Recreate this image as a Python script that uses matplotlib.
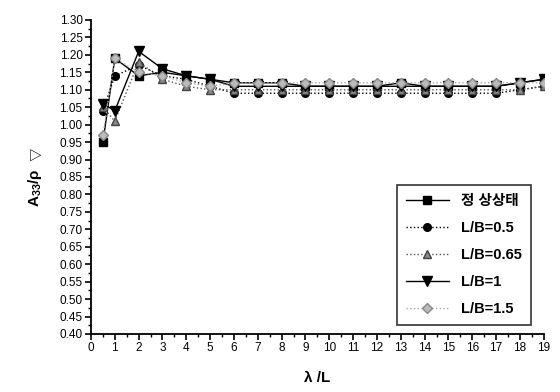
import matplotlib
matplotlib.use("Agg")
import matplotlib.pyplot as plt
from matplotlib.ticker import MultipleLocator, FormatStrFormatter

plt.rcParams['font.family'] = ['Liberation Sans', 'Noto Sans CJK KR', 'DejaVu Sans']
plt.rcParams['mathtext.fontset'] = 'custom'
plt.rcParams['mathtext.rm'] = 'Liberation Sans'
plt.rcParams['mathtext.bf'] = 'Liberation Sans:bold'

x = [0.5, 1, 2, 3, 4, 5, 6, 7, 8, 9, 10, 11, 12, 13, 14, 15, 16, 17, 18, 19]
steady = [0.95, 1.19, 1.14, 1.15, 1.14, 1.13, 1.12, 1.12, 1.12, 1.11, 1.11, 1.11, 1.11, 1.12, 1.11, 1.11, 1.11, 1.11, 1.12, 1.13]
lb05 = [1.04, 1.14, 1.17, 1.14, 1.13, 1.11, 1.09, 1.09, 1.09, 1.09, 1.09, 1.09, 1.09, 1.09, 1.09, 1.09, 1.09, 1.09, 1.10, 1.11]
lb065 = [1.05, 1.01, 1.18, 1.13, 1.11, 1.10, 1.10, 1.10, 1.10, 1.10, 1.10, 1.10, 1.10, 1.10, 1.10, 1.10, 1.10, 1.10, 1.10, 1.11]
lb1 = [1.06, 1.04, 1.21, 1.16, 1.14, 1.13, 1.11, 1.11, 1.11, 1.11, 1.11, 1.11, 1.11, 1.11, 1.11, 1.11, 1.11, 1.11, 1.12, 1.13]
lb15 = [0.97, 1.19, 1.15, 1.14, 1.12, 1.11, 1.12, 1.12, 1.12, 1.12, 1.12, 1.12, 1.12, 1.12, 1.12, 1.12, 1.12, 1.12, 1.12, 1.12]
labels = ['정 상상태', 'L/B=0.5', 'L/B=0.65', 'L/B=1', 'L/B=1.5']

fig = plt.figure(figsize=(5.6, 3.92), dpi=100)
ax = fig.add_axes([0.1625, 0.148, 0.8085, 0.801])

ax.plot(x, steady, '-', color='black', lw=1.0, marker='s', ms=5.5, label=labels[0])
ax.plot(x, lb05, ':', color='black', lw=1.0, marker='o', ms=5.5, label=labels[1])
ax.plot(x, lb065, ':', color='#555555', lw=1.0, marker='^', ms=5.5, mfc='#888888', mec='#444444', label=labels[2])
ax.plot(x, lb1, '-', color='black', lw=1.0, marker='v', ms=6.5, label=labels[3])
ax.plot(x, lb15, ':', color='#aaaaaa', lw=1.0, marker='D', ms=5.5, mfc='#bbbbbb', mec='#888888', label=labels[4])

ax.set_xlim(0, 19)
ax.set_ylim(0.40, 1.30)
ax.xaxis.set_major_locator(MultipleLocator(1))
ax.xaxis.set_minor_locator(MultipleLocator(0.5))
ax.yaxis.set_major_locator(MultipleLocator(0.05))
ax.yaxis.set_minor_locator(MultipleLocator(0.025))
ax.yaxis.set_major_formatter(FormatStrFormatter('%.2f'))
ax.tick_params(which='major', direction='out', length=4, width=1.2, labelsize=8.5, pad=2)
ax.tick_params(which='minor', direction='out', length=2, width=1)
for s in ['top', 'right']:
    ax.spines[s].set_visible(False)
for s in ['left', 'bottom']:
    ax.spines[s].set_linewidth(1.3)

ax.set_xlabel('λ /L', fontsize=11, fontweight='bold', labelpad=12)
ax.set_ylabel(r'$\mathbf{A}_{\mathbf{33}}$/ρ  $\bigtriangledown$', fontsize=11, fontweight='bold', labelpad=11)

leg = ax.legend(loc='lower right', bbox_to_anchor=(0.971, 0.029), borderaxespad=0,
                frameon=True, fancybox=False, edgecolor='black', handlelength=3,
                labelspacing=0.9, borderpad=0.6,
                prop={'weight': 'bold', 'size': 10.5})
leg.get_frame().set_linewidth(1.2)

fig.savefig('out.png', dpi=100)
